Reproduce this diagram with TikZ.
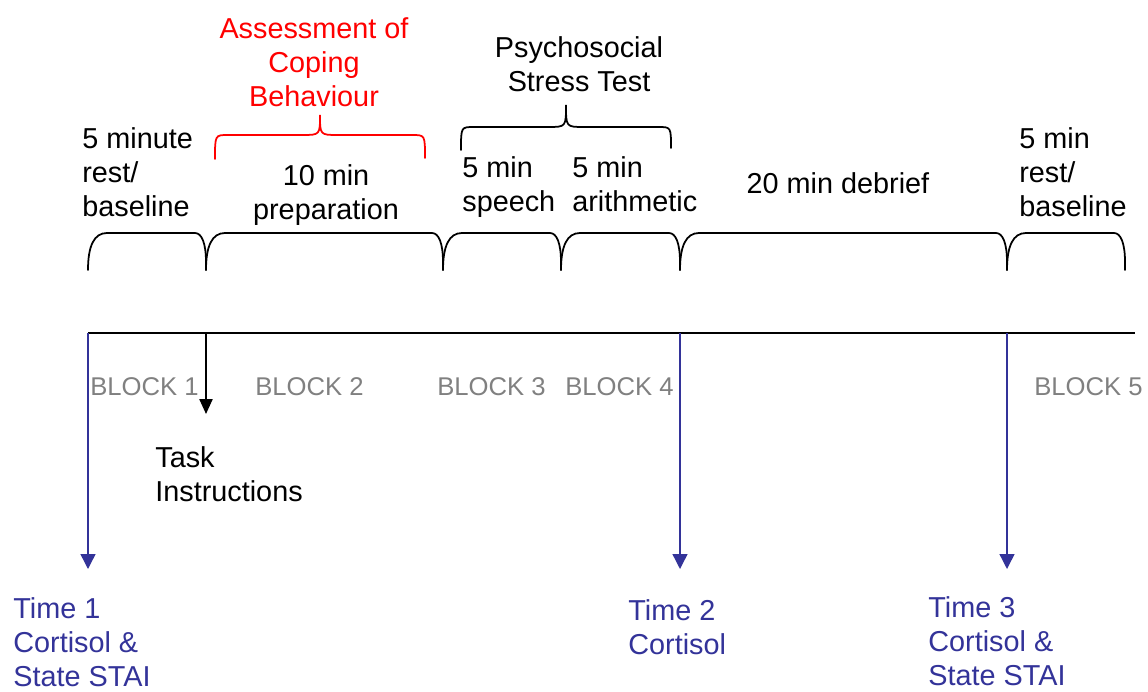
\documentclass[tikz,border=0pt]{standalone}
\usepackage{fontspec}
\setmainfont{Liberation Sans}
\usepackage{tikz}
\usetikzlibrary{arrows.meta}

\definecolor{timeblue}{RGB}{51,51,153}
\definecolor{blockgray}{RGB}{128,128,128}
\definecolor{copingred}{RGB}{255,0,0}

\tikzset{
  txt/.style={inner sep=0, align=left, font=\fontsize{16.4}{19.35}\selectfont},
  ctxt/.style={txt, align=center},
  blocklbl/.style={inner sep=0, text=blockgray, font=\fontsize{14.6}{17}\selectfont},
  timelbl/.style={txt, text=timeblue},
  brc/.style={line width=1pt, line cap=round},
  sample/.style={draw=timeblue, line width=0.8pt, -{Triangle[length=8.5pt,width=8.5pt]}},
  instr/.style={draw=black, line width=0.9pt, -{Triangle[length=8.5pt,width=7.5pt]}}
}

\begin{document}
\begin{tikzpicture}[x=0.02cm, y=-0.02cm]
  \useasboundingbox (0,0) rectangle (1148,692);

  % segment labels
  \node (rest1) [txt, anchor=west] at (82,172.5) {5 minute\\rest/\\baseline};
  \node (coping) [ctxt, text=copingred] at (314,62) {Assessment of\\Coping\\Behaviour};
  \node (prep) [ctxt] at (326,195) {10 min\\preparation};
  \node (stress) [ctxt] at (579,64) {Psychosocial\\Stress Test};
  \node (speech) [txt, anchor=west] at (462,187.5) {5 min\\speech};
  \node (arith) [txt, anchor=west] at (572,184.5) {5 min\\arithmetic};
  \node (debrief) [txt] at (838,183.5) {20 min debrief};
  \node (rest2) [txt, anchor=west] at (1019,172.5) {5 min\\rest/\\baseline};

  % braces under the labels
  \foreach \a/\b in {88/206, 206/443, 443/561, 561/680, 680/1007, 1007/1125}
    \draw [brc] (\a,270) .. controls (\a,246) and (\a+6,233) .. (\a+19,233)
      -- (\b-11,233) .. controls (\b-4,233) and (\b,244) .. (\b,262) -- (\b,270);

  % braces over the labels
  \draw [brc, copingred] (215,159) .. controls (215,135) .. (228,135) -- (302,135)
    .. controls (320,135) .. (320,115) .. controls (320,135) .. (338,135)
    -- (412,135) .. controls (425,135) .. (425,158);
  \draw [brc] (461,150) .. controls (461,127) .. (474,127) -- (548,127)
    .. controls (566,127) .. (566,105) .. controls (566,127) .. (584,127)
    -- (658,127) .. controls (671,127) .. (671,148);

  % time line
  \coordinate (tlstart) at (88,333);
  \coordinate (tlend) at (1135,333);
  \draw [line width=1.1pt] (tlstart) -- (tlend);

  \node (blk1) [blocklbl, anchor=west] at (90,386.5) {BLOCK 1};
  \node (blk2) [blocklbl, anchor=west] at (255,386.5) {BLOCK 2};
  \node (blk3) [blocklbl, anchor=west] at (437,386.5) {BLOCK 3};
  \node (blk4) [blocklbl, anchor=west] at (565,386.5) {BLOCK 4};
  \node (blk5) [blocklbl, anchor=west] at (1034,386.5) {BLOCK 5};

  % task instructions
  \coordinate (instrtop) at (206,333);
  \coordinate (instrend) at (206,414);
  \draw [instr] (instrtop) -- (instrend);
  \node (task) [txt, anchor=west] at (155,474) {Task\\Instructions};

  % sampling points
  \coordinate (s1) at (88,333);
  \coordinate (s1end) at (88,569);
  \coordinate (s2) at (680,333);
  \coordinate (s2end) at (680,569);
  \coordinate (s3) at (1007,333);
  \coordinate (s3end) at (1007,569);
  \draw [sample] (s1) -- (s1end);
  \draw [sample] (s2) -- (s2end);
  \draw [sample] (s3) -- (s3end);

  \node (time1) [timelbl, anchor=west] at (13,642.5) {Time 1\\Cortisol \&\\State STAI};
  \node (time2) [timelbl, anchor=west] at (628,627.5) {Time 2\\Cortisol};
  \node (time3) [timelbl, anchor=west] at (928,641) {Time 3\\Cortisol \&\\State STAI};
\end{tikzpicture}
\end{document}
